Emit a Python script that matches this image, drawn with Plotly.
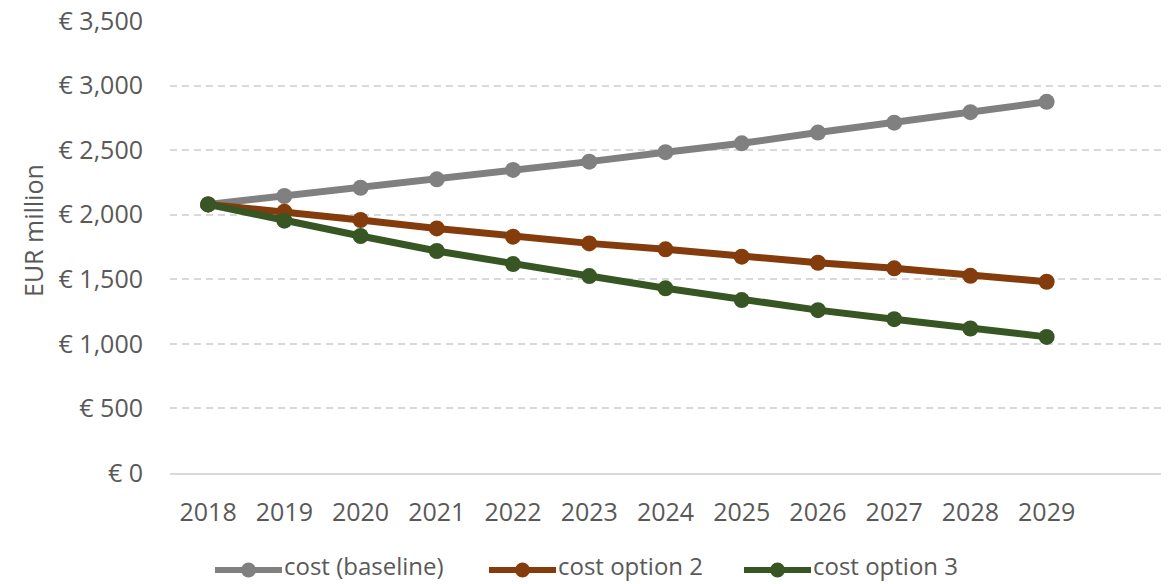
import plotly.graph_objects as go

years = ["2018", "2019", "2020", "2021", "2022", "2023",
         "2024", "2025", "2026", "2027", "2028", "2029"]
cost_baseline = [2080, 2145, 2209, 2274, 2347, 2411, 2484, 2553, 2636, 2713, 2794, 2874]
cost_option_2 = [2080, 2023, 1959, 1894, 1830, 1778, 1732, 1675, 1628, 1585, 1527, 1481]
cost_option_3 = [2080, 1954, 1835, 1719, 1618, 1525, 1430, 1339, 1261, 1191, 1119, 1054]
y_ticks = [0, 500, 1000, 1500, 2000, 2500, 3000, 3500]
y_tick_labels = [f"€ {v:,}" for v in y_ticks]

FONT = "Open Sans"
TEXT_COLOR = "#595959"
FS = 25
LEG_FS = 24

W, H = 1172, 584
M_L, M_R, M_T, M_B = 170, 11, 21, 111
PLOT_W = W - M_L - M_R
PLOT_H = H - M_T - M_B


def px_x(px):
    """Horizontal page pixel -> paper coordinate."""
    return (px - M_L) / PLOT_W


def px_y(py):
    """Vertical page pixel (from top) -> paper coordinate."""
    return (H - M_B - py) / PLOT_H


series = [
    ("cost (baseline)", cost_baseline, "#808080"),
    ("cost option 2", cost_option_2, "#843C0C"),
    ("cost option 3", cost_option_3, "#375623"),
]

x_pos = list(range(len(years)))

fig = go.Figure()
for name, values, color in series:
    fig.add_trace(go.Scatter(
        x=x_pos, y=values, name=name, mode="lines+markers",
        line=dict(color=color, width=7),
        marker=dict(color=color, size=16),
        showlegend=False,
    ))

# Legend drawn below the chart: a short line with a dot, then the label
legend_left = [215, 489, 744]
LEG_SYM_W = 67
LEG_Y = 570
for (name, _, color), left in zip(series, legend_left):
    fig.add_shape(type="line", xref="paper", yref="paper",
                  x0=px_x(left), x1=px_x(left + LEG_SYM_W),
                  y0=px_y(LEG_Y), y1=px_y(LEG_Y),
                  line=dict(color=color, width=6))
    cx = left + LEG_SYM_W / 2
    r = 7.5
    fig.add_shape(type="circle", xref="paper", yref="paper",
                  x0=px_x(cx - r), x1=px_x(cx + r),
                  y0=px_y(LEG_Y + r), y1=px_y(LEG_Y - r),
                  fillcolor=color, line=dict(color=color, width=0))
    fig.add_annotation(xref="paper", yref="paper",
                       x=px_x(left + LEG_SYM_W + 1), y=px_y(H - 1),
                       xanchor="left", yanchor="bottom", showarrow=False,
                       borderpad=0,
                       text=name, font=dict(family=FONT, size=LEG_FS, color=TEXT_COLOR))

# Vertical axis title
fig.add_annotation(xref="paper", yref="paper",
                   x=px_x(33), y=px_y(231), xanchor="center", yanchor="middle",
                   textangle=-90, showarrow=False, text="EUR million",
                   font=dict(family=FONT, size=FS, color=TEXT_COLOR))

fig.update_layout(
    width=W, height=H,
    margin=dict(l=M_L, r=M_R, t=M_T, b=M_B),
    paper_bgcolor="white", plot_bgcolor="white",
    font=dict(family=FONT, size=FS, color=TEXT_COLOR),
    showlegend=False,
    xaxis=dict(
        range=[-0.5, len(years) + 0.5],
        tickmode="array", tickvals=x_pos, ticktext=years,
        showgrid=False, zeroline=False,
        showline=True, linecolor="#d9d9d9", linewidth=2,
        ticks="", ticklabelstandoff=16,
        tickfont=dict(family=FONT, size=FS, color=TEXT_COLOR),
    ),
    yaxis=dict(
        range=[0, 3500],
        tickmode="array", tickvals=y_ticks, ticktext=y_tick_labels,
        showgrid=True, gridcolor="#d9d9d9", gridwidth=1.5,
        griddash="7px,5px",
        zeroline=False, showline=False,
        ticks="", ticklabelstandoff=26,
        tickfont=dict(family=FONT, size=FS, color=TEXT_COLOR),
        automargin=False,
    ),
)

fig.write_html("out.html")
